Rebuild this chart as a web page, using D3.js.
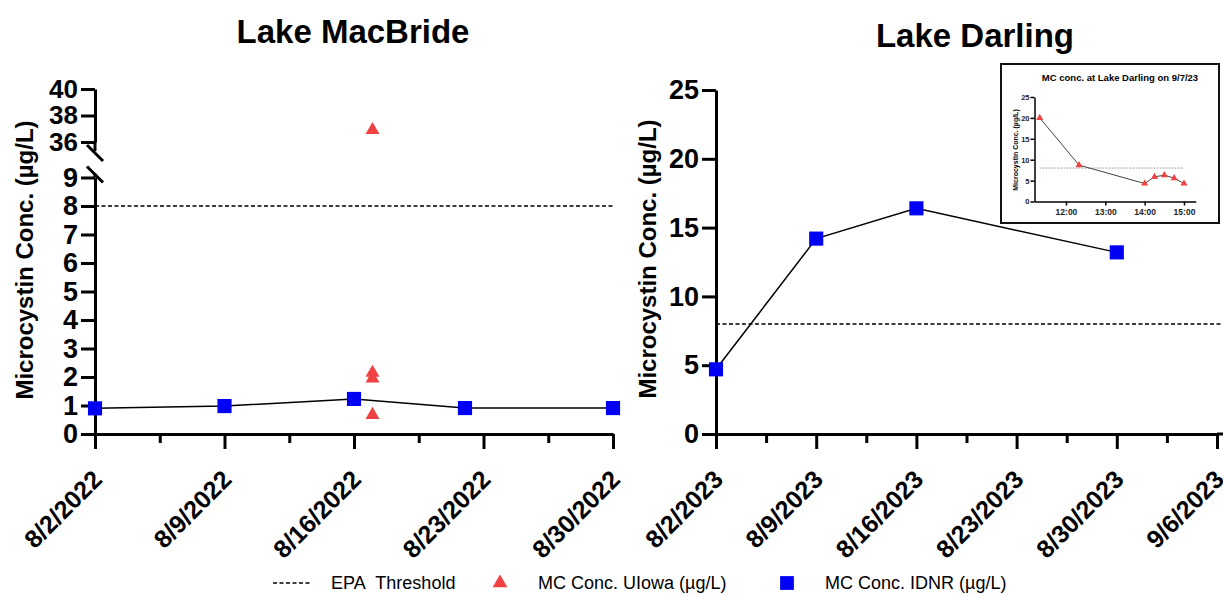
<!DOCTYPE html>
<html lang="en">
<head>
    <meta charset="UTF-8">
    <title>Microcystin</title>
    <script src="https://d3js.org/d3.v7.min.js" charset="utf-8"></script>
    <style>
        body { margin: 0; background: #fff; }
        text { font-family: "Liberation Sans", Arial, sans-serif; }
    </style>
</head>
<body>
    <div id="vis"></div>
    <script>

        // ---- data ----
        var epaThreshold = 8;

        // Lake MacBride (2022)
        var macTicks = ["2022-08-02", "2022-08-09", "2022-08-16", "2022-08-23", "2022-08-30"];
        var macIdnrDates = ["2022-08-02", "2022-08-09", "2022-08-16", "2022-08-22", "2022-08-30"];
        var macIdnrValues = [0.9, 0.98, 1.23, 0.91, 0.91];
        var macUiowaDates = ["2022-08-17", "2022-08-17", "2022-08-17", "2022-08-17"];
        var macUiowaValues = [36.9, 2.15, 1.95, 0.67];
        var macLowTicks = [0, 1, 2, 3, 4, 5, 6, 7, 8, 9];
        var macHighTicks = [36, 38, 40];

        // Lake Darling (2023)
        var darTicks = ["2023-08-02", "2023-08-09", "2023-08-16", "2023-08-23", "2023-08-30", "2023-09-06"];
        var darIdnrDates = ["2023-08-02", "2023-08-09", "2023-08-16", "2023-08-30"];
        var darIdnrValues = [4.7, 14.2, 16.4, 13.2];
        var darYTicks = [0, 5, 10, 15, 20, 25];

        // inset: Lake Darling on 9/7/23
        var insetTimes = ["11:20", "12:20", "14:00", "14:15", "14:30", "14:45", "15:00"];
        var insetValues = [20, 8.7, 4.3, 5.9, 6.3, 5.6, 4.3];
        var insetXTicks = ["12:00", "13:00", "14:00", "15:00"];
        var insetYTicks = [0, 5, 10, 15, 20, 25];

        var red = "#ef4343";
        var blue = "#0000f5";

        var parse = d3.timeParse("%Y-%m-%d");
        var fmt = d3.timeFormat("%-m/%-d/%Y");
        function hours(s) { var p = s.split(":"); return +p[0] + (+p[1]) / 60; }
        function mids(arr) {
            return d3.pairs(arr).map(function(p){ return new Date((+p[0] + +p[1]) / 2); });
        }

        var svg = d3.select("#vis")
            .append("svg")
            .attr("width", 1223)
            .attr("height", 597);

        var baseY = 434;

        function styleAxis(g, w) {
            g.selectAll("path, line").attr("stroke", "#000").attr("stroke-width", w);
        }

        function xAxis(scale, ticks) {
            var dates = ticks.map(parse);
            var g = svg.append("g")
                .attr("transform", "translate(0," + baseY + ")")
                .call(d3.axisBottom(scale).tickValues(dates).tickFormat(fmt).tickSize(15).tickSizeOuter(0));
            g.selectAll("text")
                .attr("x", 0).attr("y", 0).attr("dy", 0)
                .attr("text-anchor", "end")
                .attr("transform", "translate(8,47) rotate(-45)")
                .style("font-size", "25px")
                .style("font-weight", "bold")
                .attr("fill", "#000");
            styleAxis(g, 3);
            var m = svg.append("g")
                .attr("transform", "translate(0," + baseY + ")")
                .call(d3.axisBottom(scale).tickValues(mids(dates)).tickFormat("").tickSize(9).tickSizeOuter(0));
            m.select(".domain").remove();
            styleAxis(m, 3);
            return g;
        }

        function yAxis(scale, ticks, x, fs) {
            var g = svg.append("g")
                .attr("transform", "translate(" + x + ",0)")
                .call(d3.axisLeft(scale).tickValues(ticks).tickFormat(d3.format("d"))
                    .tickSize(14).tickPadding(3).tickSizeOuter(0));
            g.selectAll("text")
                .style("font-size", fs + "px")
                .style("font-weight", "bold")
                .attr("fill", "#000");
            styleAxis(g, 3);
            return g;
        }

        function title(txt, x, y) {
            svg.append("text").attr("x", x).attr("y", y)
                .attr("text-anchor", "middle")
                .style("font-size", "33px").style("font-weight", "bold")
                .text(txt);
        }

        function yTitle(x, y) {
            svg.append("text")
                .attr("transform", "translate(" + x + "," + y + ") rotate(-90)")
                .attr("text-anchor", "middle")
                .attr("dy", "0.35em")
                .style("font-size", "24px").style("font-weight", "bold")
                .text("Microcystin Conc. (\u00b5g/L)");
        }

        var tri = d3.symbol().type(d3.symbolTriangle).size(85);
        var sq = d3.symbol().type(d3.symbolSquare).size(200);

        // ================= Lake MacBride =================
        var xL = d3.scaleTime().domain([parse("2022-08-02"), parse("2022-08-30")]).range([95, 613]);
        var yLo = d3.scaleLinear().domain([0, 9]).range([baseY, 177.5]);
        var yHi = d3.scaleLinear().domain([36, 40]).range([142, 89]);
        function yMac(v) { return v >= 36 ? yHi(v) : yLo(v); }

        title("Lake MacBride", 353, 43);
        yTitle(25, 260);

        // EPA threshold
        svg.append("line")
            .attr("x1", xL.range()[0]).attr("x2", xL.range()[1])
            .attr("y1", yLo(epaThreshold)).attr("y2", yLo(epaThreshold))
            .attr("stroke", "#000").attr("stroke-width", 1.5)
            .attr("stroke-dasharray", "4,2.5");

        xAxis(xL, macTicks);
        var lo = yAxis(yLo, macLowTicks, 95, 27);
        var hi = yAxis(yHi, macHighTicks, 95, 26);
        // extend axis pieces up to the break marks
        lo.append("line").attr("x1", 0).attr("x2", 0).attr("y1", yLo(9)).attr("y2", yLo(9) - 4)
            .attr("stroke", "#000").attr("stroke-width", 3);
        hi.append("line").attr("x1", 0).attr("x2", 0).attr("y1", yHi(36)).attr("y2", yHi(36) + 9)
            .attr("stroke", "#000").attr("stroke-width", 3);
        // break slashes
        [yHi(36) + 11, yLo(9) - 3].forEach(function(cy){
            svg.append("line")
                .attr("x1", 95 - 8).attr("y1", cy - 8)
                .attr("x2", 95 + 8).attr("y2", cy + 8)
                .attr("stroke", "#000").attr("stroke-width", 3);
        });

        var macIdnr = macIdnrDates.map(function(d, i){ return {date: parse(d), v: macIdnrValues[i]}; });
        var macUiowa = macUiowaDates.map(function(d, i){ return {date: parse(d), v: macUiowaValues[i]}; });

        svg.append("path")
            .datum(macIdnr)
            .attr("fill", "none").attr("stroke", "#000").attr("stroke-width", 1.5)
            .attr("d", d3.line().x(function(d){ return xL(d.date); }).y(function(d){ return yMac(d.v); }));

        svg.selectAll(".macsq").data(macIdnr).enter().append("path")
            .attr("class", "macsq")
            .attr("d", sq).attr("fill", blue)
            .attr("transform", function(d){ return "translate(" + xL(d.date) + "," + yMac(d.v) + ")"; });

        svg.selectAll(".mactri").data(macUiowa).enter().append("path")
            .attr("class", "mactri")
            .attr("d", tri).attr("fill", red)
            .attr("transform", function(d){ return "translate(" + xL(d.date) + "," + yMac(d.v) + ")"; });

        // ================= Lake Darling =================
        var xR = d3.scaleTime().domain([parse("2023-08-02"), parse("2023-09-06")]).range([716, 1217]);
        var yR = d3.scaleLinear().domain([0, 25]).range([baseY, 90]);

        title("Lake Darling", 975, 47);
        yTitle(648, 259);

        svg.append("line")
            .attr("x1", xR.range()[0]).attr("x2", 1223)
            .attr("y1", yR(epaThreshold)).attr("y2", yR(epaThreshold))
            .attr("stroke", "#000").attr("stroke-width", 1.5)
            .attr("stroke-dasharray", "4,2.5");

        var gxR = xAxis(xR, darTicks);
        gxR.append("line").attr("x1", xR.range()[1]).attr("x2", 1223).attr("y1", 0).attr("y2", 0)
            .attr("stroke", "#000").attr("stroke-width", 3);
        yAxis(yR, darYTicks, 716, 27);

        var darIdnr = darIdnrDates.map(function(d, i){ return {date: parse(d), v: darIdnrValues[i]}; });

        svg.append("path")
            .datum(darIdnr)
            .attr("fill", "none").attr("stroke", "#000").attr("stroke-width", 1.5)
            .attr("d", d3.line().x(function(d){ return xR(d.date); }).y(function(d){ return yR(d.v); }));

        svg.selectAll(".darsq").data(darIdnr).enter().append("path")
            .attr("class", "darsq")
            .attr("d", sq).attr("fill", blue)
            .attr("transform", function(d){ return "translate(" + xR(d.date) + "," + yR(d.v) + ")"; });

        // ================= inset =================
        var inset = svg.append("g");
        inset.append("rect")
            .attr("x", 1001).attr("y", 64).attr("width", 218).attr("height", 159)
            .attr("fill", "#fff").attr("stroke", "#111").attr("stroke-width", 2);

        inset.append("text").attr("x", 1120).attr("y", 81)
            .attr("text-anchor", "middle")
            .style("font-size", "9.5px").style("font-weight", "bold")
            .text("MC conc. at Lake Darling on 9/7/23");

        inset.append("text")
            .attr("transform", "translate(1016,150) rotate(-90)")
            .attr("text-anchor", "middle").attr("dy", "0.35em")
            .style("font-size", "7px").style("font-weight", "bold")
            .text("Microcystin Conc. (\u00b5g/L)");

        var xi = d3.scaleLinear().domain([11.2, 15.3]).range([1034.5, 1195.8]);
        var yi = d3.scaleLinear().domain([0, 25]).range([201.5, 97]);

        var ih = insetTimes.map(hours);
        var insetData = ih.map(function(h, i){ return {h: h, v: insetValues[i]}; });

        inset.append("line")
            .attr("x1", xi(d3.min(ih))).attr("x2", xi(d3.max(ih)))
            .attr("y1", yi(epaThreshold)).attr("y2", yi(epaThreshold))
            .attr("stroke", "#888").attr("stroke-width", 1)
            .attr("stroke-dasharray", "1.5,1.5");

        var gix = inset.append("g")
            .attr("transform", "translate(0," + yi(0) + ")")
            .call(d3.axisBottom(xi).tickValues(insetXTicks.map(hours))
                .tickFormat(function(d, i){ return insetXTicks[i]; })
                .tickSize(4).tickPadding(3).tickSizeOuter(0));
        gix.selectAll("text").style("font-size", "8.5px").style("font-weight", "bold").attr("fill", "#222");
        styleAxis(gix, 1.5);

        var giy = inset.append("g")
            .attr("transform", "translate(" + xi.range()[0] + ",0)")
            .call(d3.axisLeft(yi).tickValues(insetYTicks).tickSize(4).tickPadding(1).tickSizeOuter(0));
        giy.selectAll("text").style("font-size", "7.5px").style("font-weight", "bold").attr("fill", "#222");
        styleAxis(giy, 1.5);

        inset.append("path")
            .datum(insetData)
            .attr("fill", "none").attr("stroke", "#444").attr("stroke-width", 1)
            .attr("d", d3.line().x(function(d){ return xi(d.h); }).y(function(d){ return yi(d.v); }));

        inset.selectAll(".itri").data(insetData).enter().append("path")
            .attr("class", "itri")
            .attr("d", d3.symbol().type(d3.symbolTriangle).size(22)).attr("fill", red)
            .attr("transform", function(d){ return "translate(" + xi(d.h) + "," + yi(d.v) + ")"; });

        // ================= legend =================
        var leg = svg.append("g").attr("transform", "translate(0,583)");
        leg.append("line").attr("x1", 273).attr("x2", 311).attr("y1", 0).attr("y2", 0)
            .attr("stroke", "#000").attr("stroke-width", 1.5).attr("stroke-dasharray", "4,2.5");
        leg.append("path").attr("d", d3.symbol().type(d3.symbolTriangle).size(95)).attr("fill", red)
            .attr("transform", "translate(500,0)");
        leg.append("path").attr("d", d3.symbol().type(d3.symbolSquare).size(190)).attr("fill", blue)
            .attr("transform", "translate(787,0)");
        var legText = [["EPA\u00a0 Threshold", 331], ["MC Conc. UIowa (\u00b5g/L)", 538], ["MC Conc. IDNR (\u00b5g/L)", 825]];
        legText.forEach(function(t){
            leg.append("text").attr("x", t[1]).attr("y", 0).attr("dy", "0.35em")
                .style("font-size", "18px").text(t[0]);
        });

    </script>
</body>
</html>
